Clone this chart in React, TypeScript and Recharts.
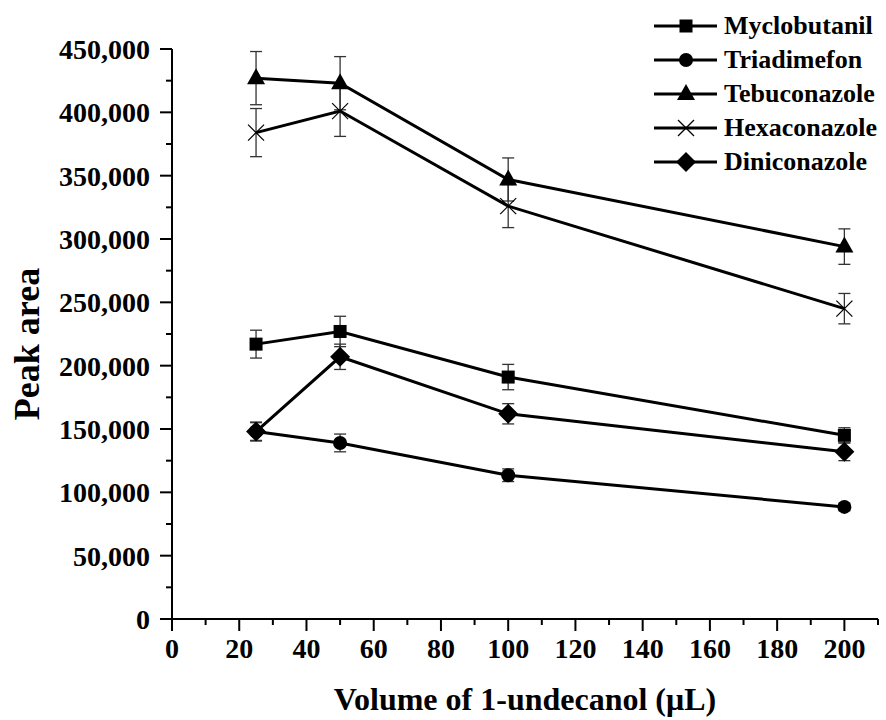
import { LineChart, Line, XAxis, YAxis, ErrorBar } from 'recharts'

const volumes = [25, 50, 100, 200]

const myclobutanil = [217000, 227000, 191000, 145000]
const myclobutanilErr = [11000, 12000, 10000, 6000]
const triadimefon = [148000, 139000, 113500, 88500]
const triadimefonErr = [7000, 7000, 5000, 3000]
const tebuconazole = [427000, 423000, 347000, 294000]
const tebuconazoleErr = [21000, 21000, 17000, 14000]
const hexaconazole = [384000, 401000, 326000, 245000]
const hexaconazoleErr = [19000, 20000, 17000, 12000]
const diniconazole = [148000, 207000, 162000, 132000]
const diniconazoleErr = [7500, 10000, 8000, 7000]

const xTicks = [0, 10, 20, 30, 40, 50, 60, 70, 80, 90, 100, 110, 120, 130, 140, 150, 160, 170, 180, 190, 200, 210]
const yTicks = [
    0, 25000, 50000, 75000, 100000, 125000, 150000, 175000, 200000, 225000,
    250000, 275000, 300000, 325000, 350000, 375000, 400000, 425000, 450000,
]

type Shape = 'square' | 'circle' | 'triangle' | 'cross' | 'diamond'

const series: { name: string; values: number[]; errors: number[]; shape: Shape }[] = [
    { name: 'Myclobutanil', values: myclobutanil, errors: myclobutanilErr, shape: 'square' },
    { name: 'Triadimefon', values: triadimefon, errors: triadimefonErr, shape: 'circle' },
    { name: 'Tebuconazole', values: tebuconazole, errors: tebuconazoleErr, shape: 'triangle' },
    { name: 'Hexaconazole', values: hexaconazole, errors: hexaconazoleErr, shape: 'cross' },
    { name: 'Diniconazole', values: diniconazole, errors: diniconazoleErr, shape: 'diamond' },
]

const chartData = volumes.map((volume, i) => {
    const row: Record<string, number> = { volume }
    series.forEach((s) => {
        row[s.name] = s.values[i]
        row[s.name + 'Err'] = s.errors[i]
    })
    return row
})

const FONT = '"Liberation Serif", "Times New Roman", serif'

function Marker({ shape, cx, cy }: { shape: Shape; cx: number; cy: number }) {
    switch (shape) {
        case 'square':
            return <rect x={cx - 6.5} y={cy - 6.5} width={13} height={13} fill="#000" />
        case 'circle':
            return <circle cx={cx} cy={cy} r={7} fill="#000" />
        case 'triangle':
            return <polygon points={`${cx},${cy - 10} ${cx + 9},${cy + 6} ${cx - 9},${cy + 6}`} fill="#000" />
        case 'cross':
            return (
                <g stroke="#000" strokeWidth={1.2}>
                    <line x1={cx - 8} y1={cy - 8} x2={cx + 8} y2={cy + 8} />
                    <line x1={cx - 8} y1={cy + 8} x2={cx + 8} y2={cy - 8} />
                </g>
            )
        default:
            return <polygon points={`${cx},${cy - 10} ${cx + 10},${cy} ${cx},${cy + 10} ${cx - 10},${cy}`} fill="#000" />
    }
}

function XTick(props: any) {
    const { x, y, payload } = props
    const major = payload.value % 20 === 0 && payload.value <= 200
    return (
        <g>
            <line x1={x} y1={y} x2={x} y2={y + (major ? 12 : 6)} stroke="#000" strokeWidth={2} />
            {major && (
                <text x={x} y={y + 39} textAnchor="middle" fontFamily={FONT} fontWeight="bold" fontSize={28} fill="#000">
                    {payload.value}
                </text>
            )}
        </g>
    )
}

function YTick(props: any) {
    const { x, y, payload } = props
    const major = payload.value % 50000 === 0
    return (
        <g>
            <line x1={x} y1={y} x2={x - (major ? 12 : 6)} y2={y} stroke="#000" strokeWidth={2} />
            {major && (
                <text x={x - 22} y={y + 10} textAnchor="end" fontFamily={FONT} fontWeight="bold" fontSize={28} fill="#000">
                    {payload.value.toLocaleString('en-US')}
                </text>
            )}
        </g>
    )
}

export default function App() {
    return (
        <div style={{ position: 'absolute', left: 0, top: 0, width: 886, height: 720, background: '#fff' }}>
            <LineChart
                width={886}
                height={720}
                data={chartData}
                margin={{ top: 49, right: 8, bottom: 41, left: 72 }}
            >
                <XAxis
                    dataKey="volume"
                    type="number"
                    domain={[0, 210]}
                    ticks={xTicks}
                    interval={0}
                    height={60}
                    tickSize={0}
                    tickMargin={0}
                    tickLine={false}
                    tick={<XTick />}
                    axisLine={{ stroke: '#000', strokeWidth: 2 }}
                    label={({ viewBox }: any) => (
                        <text
                            x={viewBox.x + viewBox.width / 2}
                            y={710}
                            textAnchor="middle"
                            fontFamily={FONT}
                            fontWeight="bold"
                            fontSize={32}
                            fill="#000"
                        >
                            Volume of 1-undecanol (μL)
                        </text>
                    )}
                />
                <YAxis
                    type="number"
                    domain={[0, 450000]}
                    ticks={yTicks}
                    interval={0}
                    width={100}
                    tickSize={0}
                    tickMargin={0}
                    tickLine={false}
                    tick={<YTick />}
                    axisLine={{ stroke: '#000', strokeWidth: 2 }}
                    label={({ viewBox }: any) => {
                        const cy = viewBox.y + viewBox.height / 2 + 10
                        return (
                            <text
                                x={39}
                                y={cy}
                                transform={`rotate(-90 39 ${cy})`}
                                textAnchor="middle"
                                fontFamily={FONT}
                                fontWeight="bold"
                                fontSize={36}
                                fill="#000"
                            >
                                Peak area
                            </text>
                        )
                    }}
                />
                {series.map((s) => (
                    <Line
                        key={s.name}
                        dataKey={s.name}
                        stroke="#000"
                        strokeWidth={3}
                        isAnimationActive={false}
                        dot={(p: any) => <Marker key={p.index} shape={s.shape} cx={p.cx} cy={p.cy} />}
                        activeDot={false}
                    >
                        <ErrorBar dataKey={s.name + 'Err'} width={6} stroke="#333" strokeWidth={1.3} direction="y" />
                    </Line>
                ))}
            </LineChart>
            <div style={{ position: 'absolute', left: 654, top: 9 }}>
                {series.map((s) => (
                    <div key={s.name} style={{ display: 'flex', alignItems: 'center', height: 34 }}>
                        <svg width={64} height={34}>
                            <line x1={0} y1={17} x2={63} y2={17} stroke="#000" strokeWidth={3} />
                            <Marker shape={s.shape} cx={32} cy={17} />
                        </svg>
                        <span
                            style={{
                                marginLeft: 6,
                                fontFamily: FONT,
                                fontWeight: 'bold',
                                fontSize: 26,
                                lineHeight: '34px',
                                color: '#000',
                                whiteSpace: 'nowrap',
                            }}
                        >
                            {s.name}
                        </span>
                    </div>
                ))}
            </div>
        </div>
    )
}
